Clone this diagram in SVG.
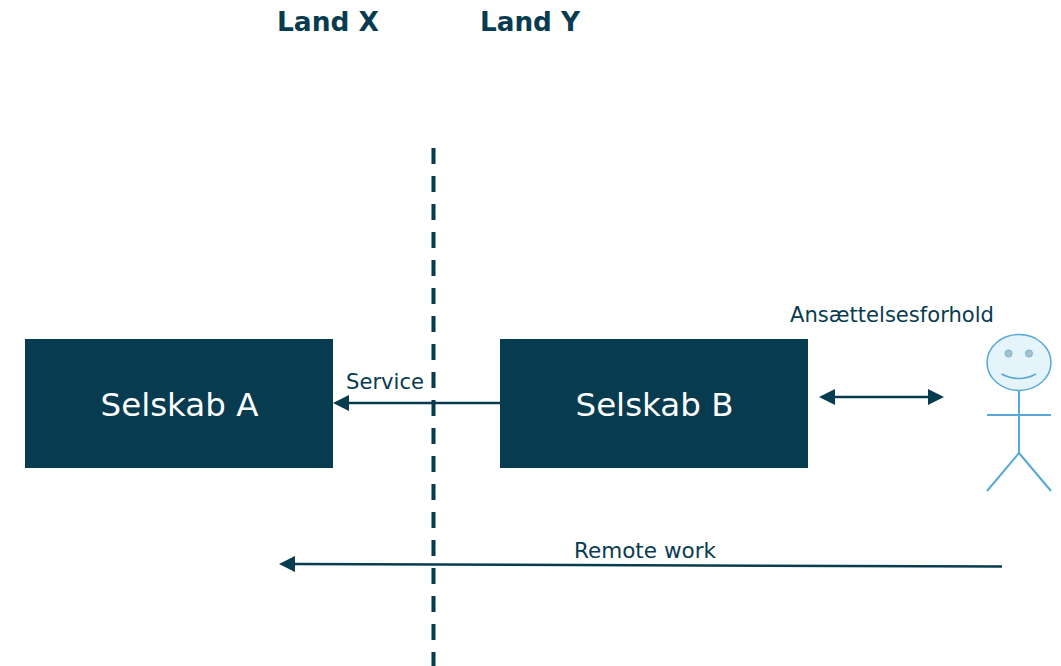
<svg xmlns="http://www.w3.org/2000/svg" width="1061" height="666" viewBox="0 0 1061 666">
<style>
text{font-family:"DejaVu Sans",Verdana,sans-serif;fill:#073b50}
.h{font-size:26px;font-weight:700}
.n{font-size:32px;fill:#fff}
.l{font-size:20.500px}
.box{fill:#073b50}
.c{stroke:#073b50;stroke-width:2.5;fill:none}
.ah{fill:#073b50}
.p{stroke:#56a8d6;stroke-width:2;fill:none}
</style>
<rect width="1061" height="666" fill="#fff"/>
<g id="headers"><text class="h" x="277" y="31" textLength="102" lengthAdjust="spacingAndGlyphs">Land X</text><text class="h" x="480" y="31" textLength="100" lengthAdjust="spacingAndGlyphs">Land Y</text></g>
<g id="connectors">
<path d="M433.500 148V666" stroke="#073b50" stroke-width="4" stroke-dasharray="16 12" fill="none"/>
<path class="c" d="M500 403H347"/><path class="ah" d="M333 403l16-8v16z"/>
<path class="c" d="M833 397H930"/><path class="ah" d="M819 397l16-8v16zM944 397l-16-8v16z"/>
<path class="c" d="M1002 566.500L293 564"/><path class="ah" d="M279 564l16-8v16z"/>
</g>
<g id="selskab-a"><rect class="box" x="25" y="339" width="308" height="129"/><text class="n" x="100.500" y="416" textLength="158" lengthAdjust="spacingAndGlyphs">Selskab A</text></g>
<g id="selskab-b"><rect class="box" x="500" y="339" width="308" height="129"/><text class="n" x="575.500" y="416" textLength="158" lengthAdjust="spacingAndGlyphs">Selskab B</text></g>
<g id="person">
<ellipse cx="1019" cy="362.500" rx="32" ry="28" fill="#e5f3fb" stroke="#56a8d6" stroke-width="1.500"/>
<circle cx="1008.500" cy="353.500" r="3.500" fill="#a9bfcb" stroke="#6fb3db"/><circle cx="1029" cy="353.500" r="3.500" fill="#a9bfcb" stroke="#6fb3db"/>
<path d="M1001.500 374Q1019 383 1036 374" fill="none" stroke="#56a8d6" stroke-width="1.500"/>
<path class="p" d="M1019 390.500V453M987 415H1051M1019 453L987 491M1019 453L1051 491"/>
</g>
<g id="labels">
<text class="l" x="346" y="388.500" textLength="78" lengthAdjust="spacingAndGlyphs">Service</text>
<text class="l" x="790" y="321.500" textLength="204" lengthAdjust="spacingAndGlyphs">Ansættelsesforhold</text>
<text class="l" x="574" y="557.500" textLength="142" lengthAdjust="spacingAndGlyphs">Remote work</text>
</g>
</svg>
